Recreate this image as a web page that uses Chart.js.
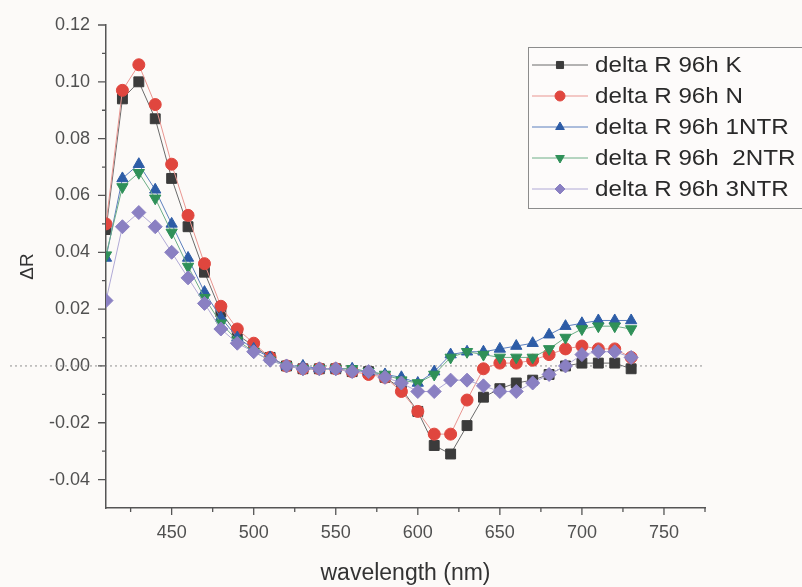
<!DOCTYPE html>
<html>
<head>
<meta charset="utf-8">
<script src="https://cdn.jsdelivr.net/npm/chart.js@4/dist/chart.umd.min.js"></script>
<style>
  html, body { margin: 0; padding: 0; background: #fcfaf8; }
  #wrap { width: 802px; height: 587px; }
</style>
</head>
<body>
<div id="wrap"><canvas id="chart" width="802" height="587"></canvas></div>
<script>
const wavelengths = [410, 420, 430, 440, 450, 460, 470, 480, 490, 500, 510, 520, 530, 540, 550, 560, 570,
  580, 590, 600, 610, 620, 630, 640, 650, 660, 670, 680, 690, 700, 710, 720, 730];

const deltaK = [0.048, 0.094, 0.100, 0.087, 0.066, 0.049, 0.033, 0.019, 0.011, 0.007, 0.003, 0.000, -0.001,
  -0.001, -0.001, -0.002, -0.002, -0.004, -0.008, -0.016, -0.028, -0.031, -0.021, -0.011, -0.008, -0.006,
  -0.005, -0.003, 0.000, 0.001, 0.001, 0.001, -0.001];
const deltaN = [0.050, 0.097, 0.106, 0.092, 0.071, 0.053, 0.036, 0.021, 0.013, 0.008, 0.003, 0.000, -0.001,
  -0.001, -0.001, -0.002, -0.003, -0.004, -0.009, -0.016, -0.024, -0.024, -0.012, -0.001, 0.001, 0.001,
  0.002, 0.004, 0.006, 0.007, 0.006, 0.006, 0.003];
const delta1NTR = [0.038, 0.066, 0.071, 0.062, 0.050, 0.038, 0.026, 0.017, 0.010, 0.006, 0.003, 0.000, 0.000,
  -0.001, -0.001, -0.001, -0.002, -0.003, -0.004, -0.006, -0.002, 0.004, 0.005, 0.005, 0.006, 0.007,
  0.008, 0.011, 0.014, 0.015, 0.016, 0.016, 0.016];
const delta2NTR = [0.039, 0.063, 0.068, 0.059, 0.047, 0.035, 0.024, 0.015, 0.009, 0.005, 0.002, 0.000, -0.001,
  -0.001, -0.001, -0.001, -0.002, -0.003, -0.005, -0.006, -0.003, 0.003, 0.005, 0.004, 0.003, 0.003,
  0.003, 0.006, 0.010, 0.013, 0.014, 0.014, 0.013];
const delta3NTR = [0.023, 0.049, 0.054, 0.049, 0.040, 0.031, 0.022, 0.013, 0.008, 0.005, 0.002, 0.000, -0.001,
  -0.001, -0.001, -0.002, -0.002, -0.004, -0.006, -0.009, -0.009, -0.005, -0.005, -0.007, -0.009, -0.009,
  -0.006, -0.003, 0.000, 0.004, 0.005, 0.005, 0.003];

const seriesLabels = ["delta R 96h K", "delta R 96h N", "delta R 96h 1NTR", "delta R 96h  2NTR", "delta R 96h 3NTR"];

const xMajorTicks = [450, 500, 550, 600, 650, 700, 750];
const xMinorTicks = [425, 475, 525, 575, 625, 675, 725, 775];
const yMajorTicks = [-0.04, -0.02, 0.00, 0.02, 0.04, 0.06, 0.08, 0.10, 0.12];
const yMinorTicks = [-0.03, -0.01, 0.01, 0.03, 0.05, 0.07, 0.09, 0.11];

const FONT = "'Liberation Sans', Arial, sans-serif";

function pts(values) {
  return wavelengths.map((w, i) => ({ x: w, y: values[i] }));
}

function makeSet(label, values, fill, line, style, radius, rotation, order) {
  return {
    label: label,
    data: pts(values),
    borderColor: line,
    borderWidth: 1,
    backgroundColor: fill,
    pointBackgroundColor: fill,
    pointBorderColor: fill,
    pointBorderWidth: 1,
    pointStyle: style,
    pointRadius: radius,
    pointRotation: rotation,
    tension: 0,
    order: order,
  };
}

const datasets = [
  makeSet(seriesLabels[0], deltaK, "#3b3b3b", "#6a6a6a", "rect", 7, 0, 4),
  makeSet(seriesLabels[1], deltaN, "#e0463e", "#e99590", "circle", 6, 0, 3),
  makeSet(seriesLabels[2], delta1NTR, "#2d5ca6", "#5b7fbd", "triangle", 6.5, 0, 2),
  makeSet(seriesLabels[3], delta2NTR, "#2f9058", "#6cae86", "triangle", 6.5, 180, 1),
  makeSet(seriesLabels[4], delta3NTR, "#8a80c2", "#b0a9d6", "rectRot", 7, 0, 0),
];

// zero line, axis tick marks and boxed legend
const extras = {
  id: "extras",
  beforeDatasetsDraw(chart) {
    const ctx = chart.ctx;
    const y0 = chart.scales.y.getPixelForValue(0);
    ctx.save();
    ctx.strokeStyle = "#8f8f8f";
    ctx.lineWidth = 1;
    ctx.setLineDash([2, 3]);
    ctx.beginPath();
    ctx.moveTo(10, y0);
    ctx.lineTo(chart.chartArea.right, y0);
    ctx.stroke();
    ctx.restore();
  },
  afterDraw(chart) {
    const ctx = chart.ctx;
    const xs = chart.scales.x, ys = chart.scales.y;
    const area = chart.chartArea;
    ctx.save();
    ctx.strokeStyle = "#555";
    ctx.lineWidth = 1.3;
    ctx.beginPath();
    yMajorTicks.forEach(v => { const p = ys.getPixelForValue(v); ctx.moveTo(area.left - 8, p); ctx.lineTo(area.left, p); });
    yMinorTicks.forEach(v => { const p = ys.getPixelForValue(v); ctx.moveTo(area.left - 4, p); ctx.lineTo(area.left, p); });
    xMajorTicks.forEach(v => { const p = xs.getPixelForValue(v); ctx.moveTo(p, area.bottom); ctx.lineTo(p, area.bottom + 7); });
    xMinorTicks.forEach(v => { const p = xs.getPixelForValue(v); ctx.moveTo(p, area.bottom); ctx.lineTo(p, area.bottom + 4); });
    ctx.stroke();

    // legend
    const lx = 528, ly = 47, lw = 290, lh = 161;
    ctx.fillStyle = "#fdfbfa";
    ctx.fillRect(lx, ly, lw, lh);
    ctx.strokeStyle = "#8c8c8c";
    ctx.lineWidth = 1;
    ctx.strokeRect(lx + 0.5, ly + 0.5, lw, lh);
    chart.data.datasets.forEach((ds, i) => {
      const cy = 65 + i * 31;
      ctx.strokeStyle = ds.borderColor;
      ctx.lineWidth = 1;
      ctx.beginPath();
      ctx.moveTo(532, cy);
      ctx.lineTo(588, cy);
      ctx.stroke();
      ctx.fillStyle = ds.pointBackgroundColor;
      ctx.strokeStyle = ds.pointBorderColor;
      Chart.helpers.drawPoint(ctx, { pointStyle: ds.pointStyle, rotation: ds.pointRotation, radius: 5, borderWidth: 1 }, 560, cy);
      ctx.save();
      ctx.translate(595, cy + 1);
      ctx.scale(1.1, 1);
      ctx.font = "22px " + FONT;
      ctx.textBaseline = "middle";
      ctx.fillStyle = "#2a2a2a";
      ctx.fillText(ds.label, 0, 0);
      ctx.restore();
    });
    ctx.restore();
  },
};

new Chart(document.getElementById("chart"), {
  type: "line",
  data: { datasets: datasets },
  plugins: [extras],
  options: {
    responsive: false,
    animation: false,
    layout: { padding: { left: 0, right: 97, top: 25, bottom: 0 } },
    plugins: { legend: { display: false }, tooltip: { enabled: false } },
    scales: {
      x: {
        type: "linear",
        min: 410,
        max: 775,
        afterBuildTicks: (s) => { s.ticks = xMajorTicks.map(v => ({ value: v })); },
        afterFit: (s) => { s.height = 79; },
        grid: { display: false },
        border: { display: true, color: "#555", width: 1.5 },
        ticks: { padding: 6, color: "#505050", font: { family: FONT, size: 18 }, maxRotation: 0, callback: v => String(v) },
        title: { display: true, text: "wavelength (nm)", color: "#333", font: { family: FONT, size: 23 }, padding: { top: 0, bottom: 0 } },
      },
      y: {
        min: -0.05,
        max: 0.12,
        afterBuildTicks: (s) => { s.ticks = yMajorTicks.map(v => ({ value: v })); },
        afterFit: (s) => { s.width = 106; },
        grid: { display: false },
        border: { display: true, color: "#555", width: 1.5 },
        ticks: { padding: 8, color: "#505050", font: { family: FONT, size: 18 }, callback: v => v.toFixed(2) },
        title: { display: true, text: "ΔR", color: "#333", font: { family: FONT, size: 19 }, padding: { top: 16, bottom: 0 } },
      },
    },
  },
});
</script>
</body>
</html>
